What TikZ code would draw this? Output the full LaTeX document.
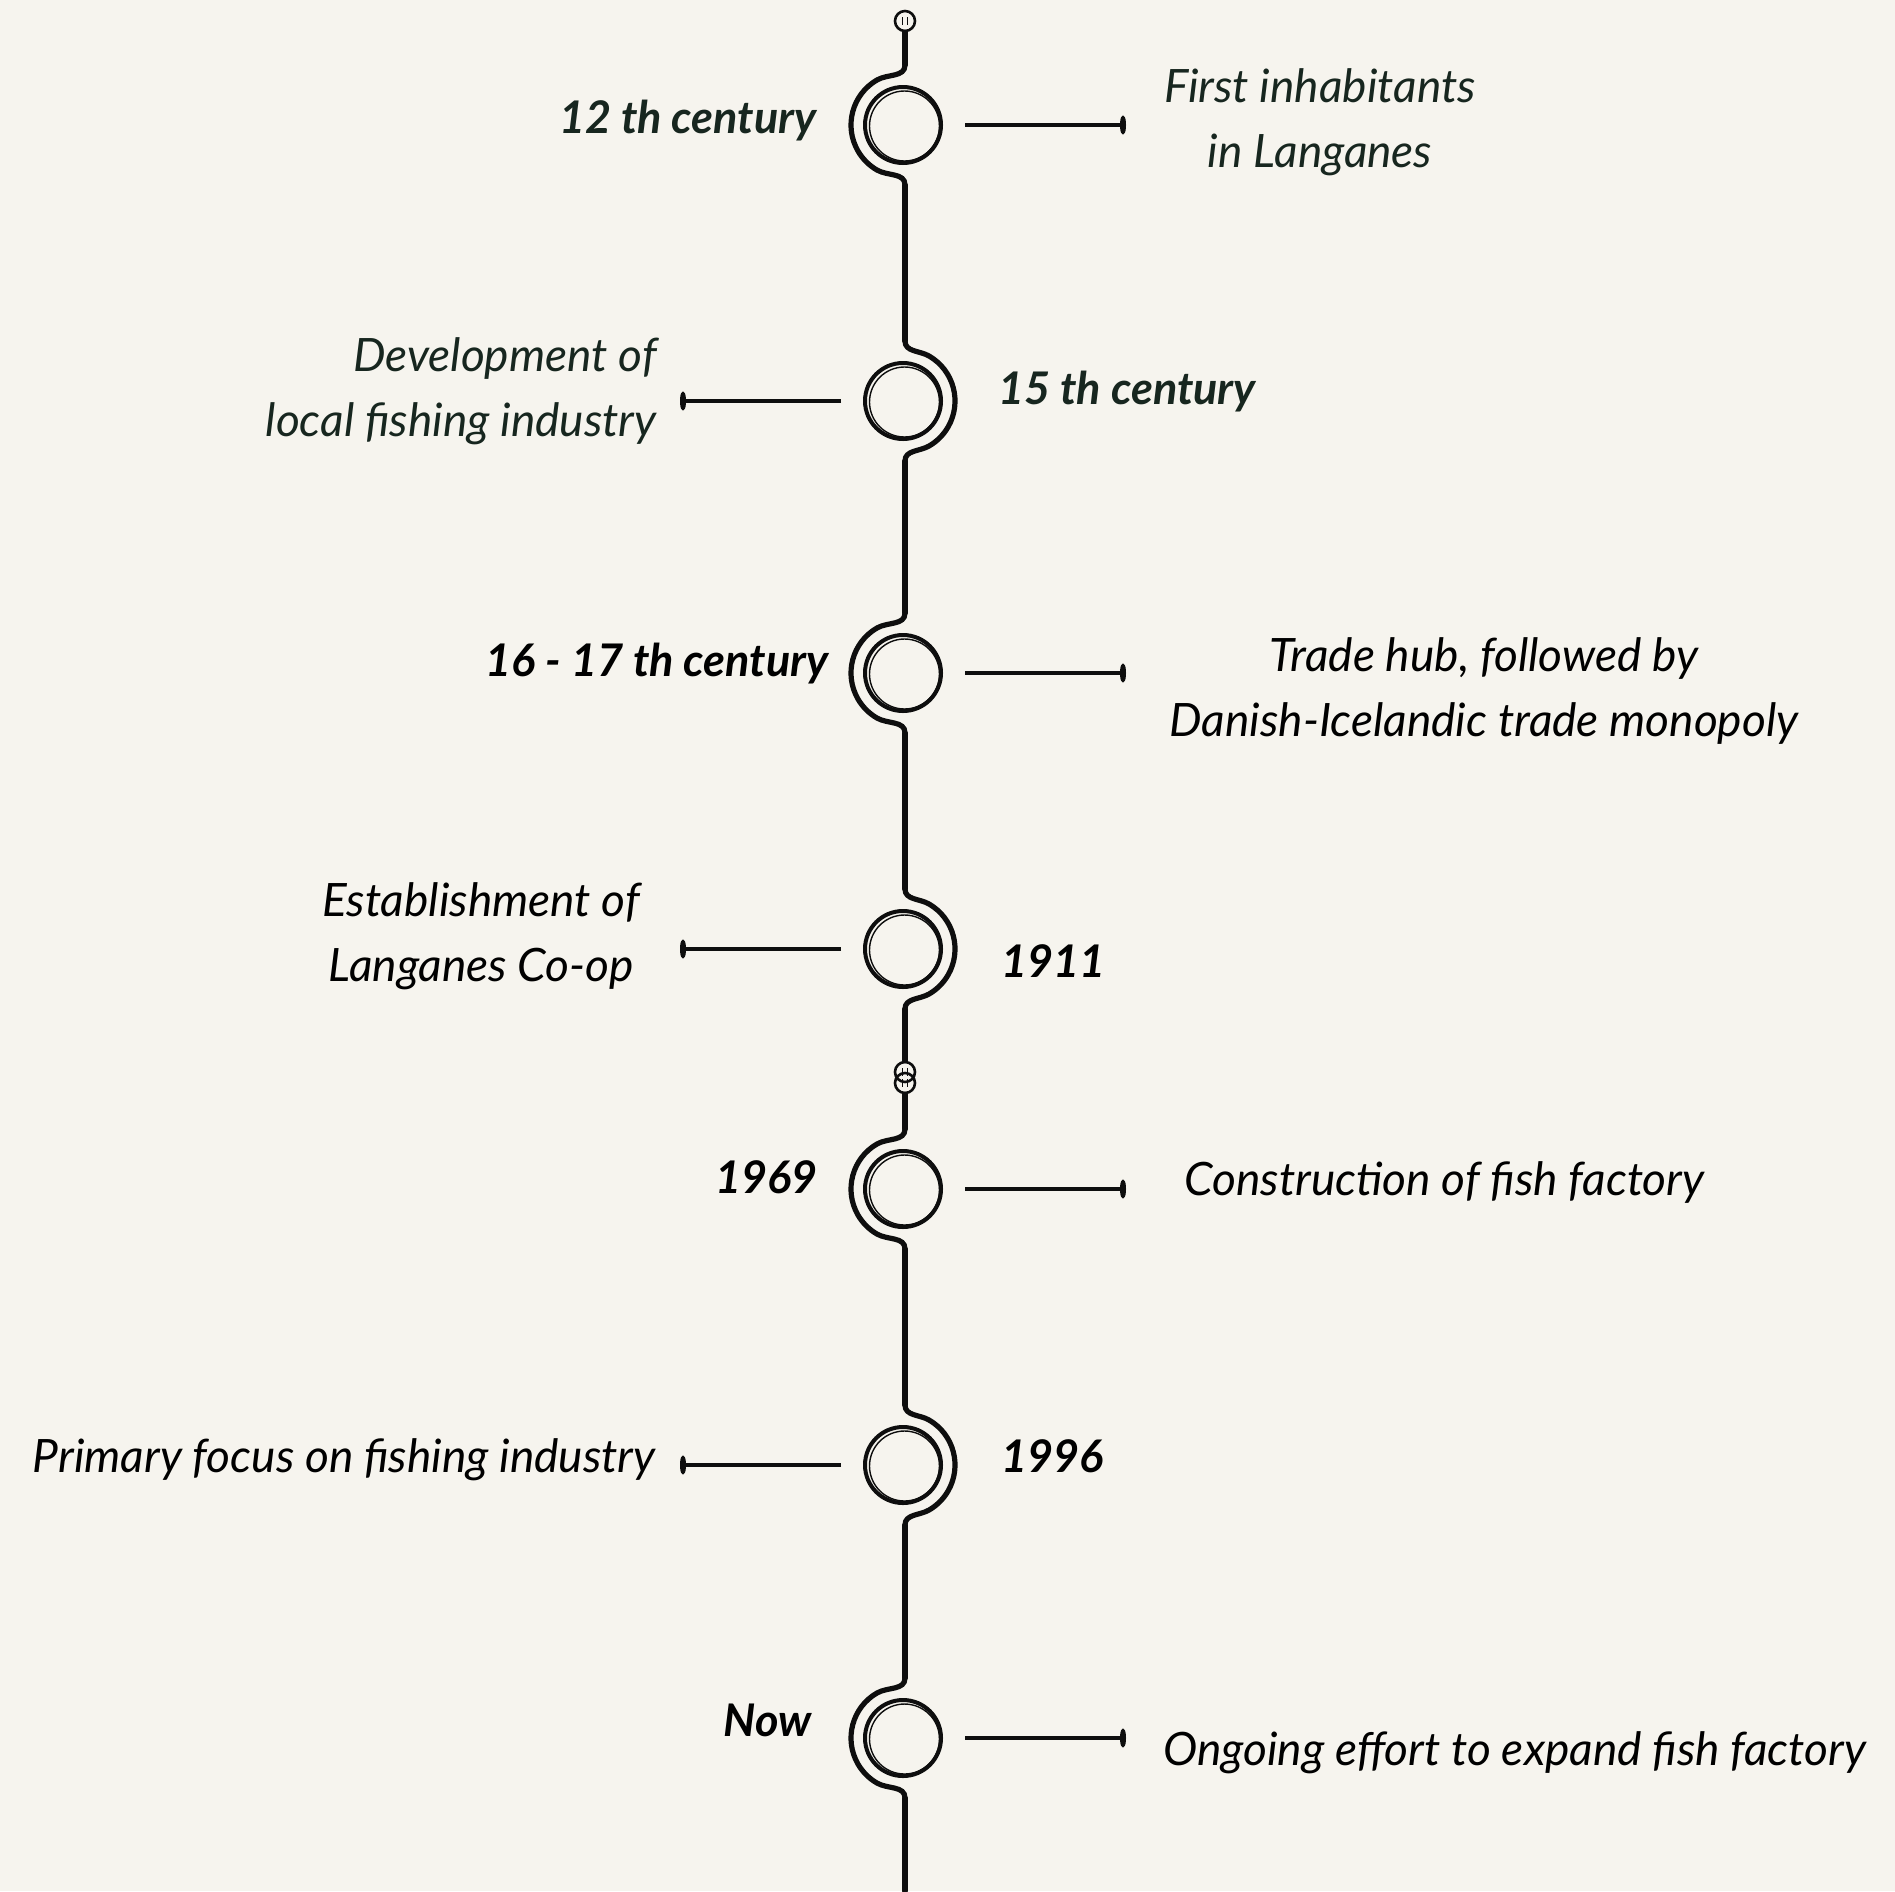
\documentclass[tikz,border=0pt]{standalone}
\usepackage{fontspec}
\setmainfont{Lato}
\usetikzlibrary{arrows.meta}

\definecolor{paper}{HTML}{F6F4EE}
\definecolor{ink}{HTML}{17261F}
\definecolor{inkline}{HTML}{0E0E0E}

\begin{document}
\begin{tikzpicture}[x=0.5pt, y=0.5pt,
    spine/.style={draw=inkline, line width=2.6pt, line cap=round},
    event/.style={circle, draw=inkline, line width=2pt, minimum size=38pt, inner sep=0},
    sketch/.style={draw=inkline, line width=0.7pt},
    knob/.style={circle, draw=inkline, line width=1.3pt, minimum size=10pt, inner sep=0},
    hatch/.style={draw=inkline, line width=0.8pt},
    link/.style={draw=inkline, line width=2.4pt, shorten <=11pt, -{Ellipse[length=3pt,width=9pt]}},
    year/.style={font=\fontsize{22.5}{28}\selectfont\bfseries\itshape, text=black, inner sep=0},
    note/.style={font=\fontsize{23}{32.4}\selectfont\itshape, text=black, inner sep=0, align=center}]

  \fill[paper] (0,0) rectangle (1895,-1891);
  \useasboundingbox (0,0) rectangle (1895,-1891);

  % end knob and break on the spine
  \node[knob] (cap) at (905,-21) {};
  \node[knob] (brkA) at (905,-1072) {};
  \node[knob] (brkB) at (905,-1083) {};
  \foreach \k in {cap, brkA, brkB} {
    \draw[hatch] ([shift={(-2.5,4)}]\k.center) -- ++(0,-8);
    \draw[hatch] ([shift={(2.5,4)}]\k.center) -- ++(0,-8);
  }

  % events: circle, bulge of the spine, connector
  \foreach \yy/\s [count=\i,
      evaluate=\s as \sa using 90-30*(\s),
      evaluate=\s as \da using -120*(\s),
      evaluate=\s as \win using 90+60*(\s),
      evaluate=\s as \wout using -90-60*(\s),
      evaluate=\s as \tx using 903-223*(\s)]
      in {125/-1, 401/1, 673/-1, 949/1, 1189/-1, 1465/1, 1738/-1} {
    \node[event] (e\i) at (903,-\yy) {};
    \draw[sketch] ([shift={(1.5,-1)}]e\i.center) circle[radius=35];
    \coordinate (top\i) at (905,-\yy+60);
    \coordinate (bot\i) at (905,-\yy-60);
    \coordinate (tip\i) at (\tx,-\yy);
    \draw[spine] (top\i) to[out=-90, in=\win] ([shift={(\sa:52)}]e\i.center)
      arc[start angle=\sa, delta angle=\da, radius=52] to[out=\wout, in=90] (bot\i);
    \draw[link] (e\i) -- (tip\i);
  }

  % spine between events
  \coordinate (foot) at (905,-1891);
  \foreach \a/\b in {cap/top1, bot1/top2, bot2/top3, bot3/top4, bot4/brkA,
                     brkB/top5, bot5/top6, bot6/top7, bot7/foot}
    \draw[spine] (\a) -- (\b);

  % dates
  \node[year, text=ink, anchor=base east] (y1) at (817,-133) {12 th century};
  \node[year, text=ink, anchor=base west] (y2) at (998,-404) {15 th century};
  \node[year, anchor=base east] (y3) at (829,-676) {16 - 17 th century};
  \node[year, anchor=base west] (y4) at (1001,-977) {1911};
  \node[year, anchor=base east] (y5) at (818,-1193) {1969};
  \node[year, anchor=base west] (y6) at (1001,-1472) {1996};
  \node[year, anchor=base east] (y7) at (812,-1736) {Now};

  % descriptions (base = last line)
  \node[note, text=ink, anchor=base] (n1) at (1320,-167) {First inhabitants\\in Langanes};
  \node[note, text=ink, anchor=base east, align=right] (n2) at (657,-436) {Development of\\local fishing industry};
  \node[note, anchor=base] (n3) at (1484,-736) {Trade hub, followed by\\Danish-Icelandic trade monopoly};
  \node[note, anchor=base] (n4) at (481,-981) {Establishment of\\Langanes Co-op};
  \node[note, anchor=base west] (n5) at (1184,-1195) {Construction of fish factory};
  \node[note, anchor=base east] (n6) at (656,-1472) {Primary focus on fishing industry};
  \node[note, anchor=base west] (n7) at (1163,-1765) {Ongoing effort to expand fish factory};
\end{tikzpicture}
\end{document}
